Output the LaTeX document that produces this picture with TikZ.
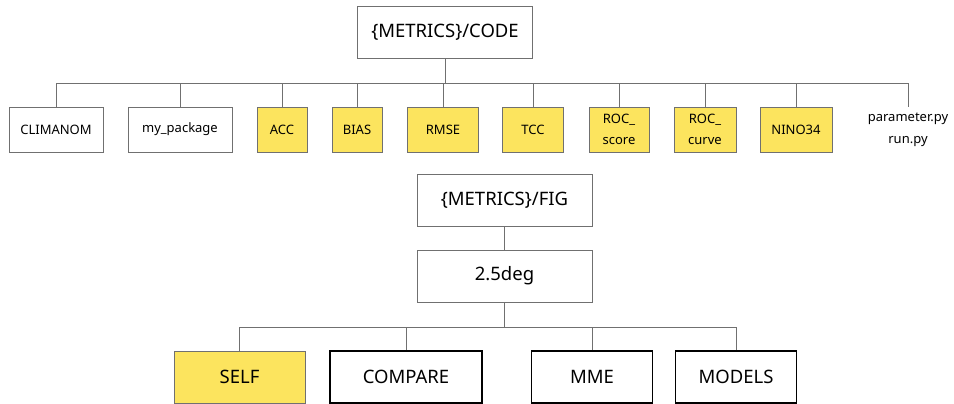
\documentclass[tikz,border=0pt]{standalone}
\usepackage{fontspec}
\setmainfont{Noto Sans}
\usetikzlibrary{positioning,calc}
\definecolor{cYellow}{HTML}{FCE45E}
\definecolor{cLine}{HTML}{707070}

\begin{document}
\begin{tikzpicture}[
    x=1pt, y=-1pt,
    box/.style={draw=cLine, line width=0.8pt, align=center, inner sep=2pt, minimum height=45pt, fill=white, font=\fontsize{13}{21}\selectfont},
    mbox/.style={box, fill=cYellow},
    head/.style={box, minimum width=175pt, minimum height=52pt, font=\fontsize{18.5}{22}\selectfont},
    leaf/.style={draw=black, line width=1.4pt, align=center, minimum height=52pt, minimum width=121pt, font=\fontsize{18.5}{22}\selectfont},
    link/.style={cLine, line width=0.8pt}
]
\useasboundingbox (0,0) rectangle (954,404);

% code tree
\node[head] (code) at (445,32) {\{METRICS\}/CODE};
\coordinate (codebus) at (0,83);

\node[box, minimum width=94pt] (climanom) at (56,129.5) {CLIMANOM};
\node[box, minimum width=104pt] (mypkg) at (180,129.5) {my\_package};
\node[mbox, minimum width=50pt] (acc) at (282,129.5) {ACC};
\node[mbox, minimum width=50pt] (bias) at (357,129.5) {BIAS};
\node[mbox, minimum width=71pt] (rmse) at (443,129.5) {RMSE};
\node[mbox, minimum width=61pt] (tcc) at (533,129.5) {TCC};
\node[mbox, minimum width=60pt] (rocscore) at (619,129.5) {ROC\_\\score};
\node[mbox, minimum width=62pt] (roccurve) at (705,129.5) {ROC\_\\curve};
\node[mbox, minimum width=72pt] (nino) at (796,129.5) {NINO34};
\node[align=center, inner sep=0pt, font=\fontsize{13}{22}\selectfont] (pyfiles) at (908,130) {parameter.py\\run.py};
\coordinate (pytop) at (908,107);

\foreach \c in {climanom,mypkg,acc,bias,rmse,tcc,rocscore,roccurve,nino}
    \draw[link] (code.south) -- (code.south |- codebus) -| (\c.north);
\draw[link] (code.south) -- (code.south |- codebus) -| (pytop);

% fig tree
\node[head] (fig) at (504.5,200) {\{METRICS\}/FIG};
\node[head] (res) at (504.5,276) {2.5deg};
\coordinate (figbus) at (0,327);

\node[leaf, minimum width=131pt, fill=cYellow, draw=cLine, line width=0.8pt] (self) at (239.5,377) {SELF};
\node[leaf, minimum width=152pt] (compare) at (406,377) {COMPARE};
\node[leaf] (mme) at (592,377) {MME};
\node[leaf] (models) at (736,377) {MODELS};

\draw[link] (fig) -- (res);
\foreach \c in {self,compare,mme,models}
    \draw[link] (res.south) -- (res.south |- figbus) -| (\c.north);
\end{tikzpicture}
\end{document}
